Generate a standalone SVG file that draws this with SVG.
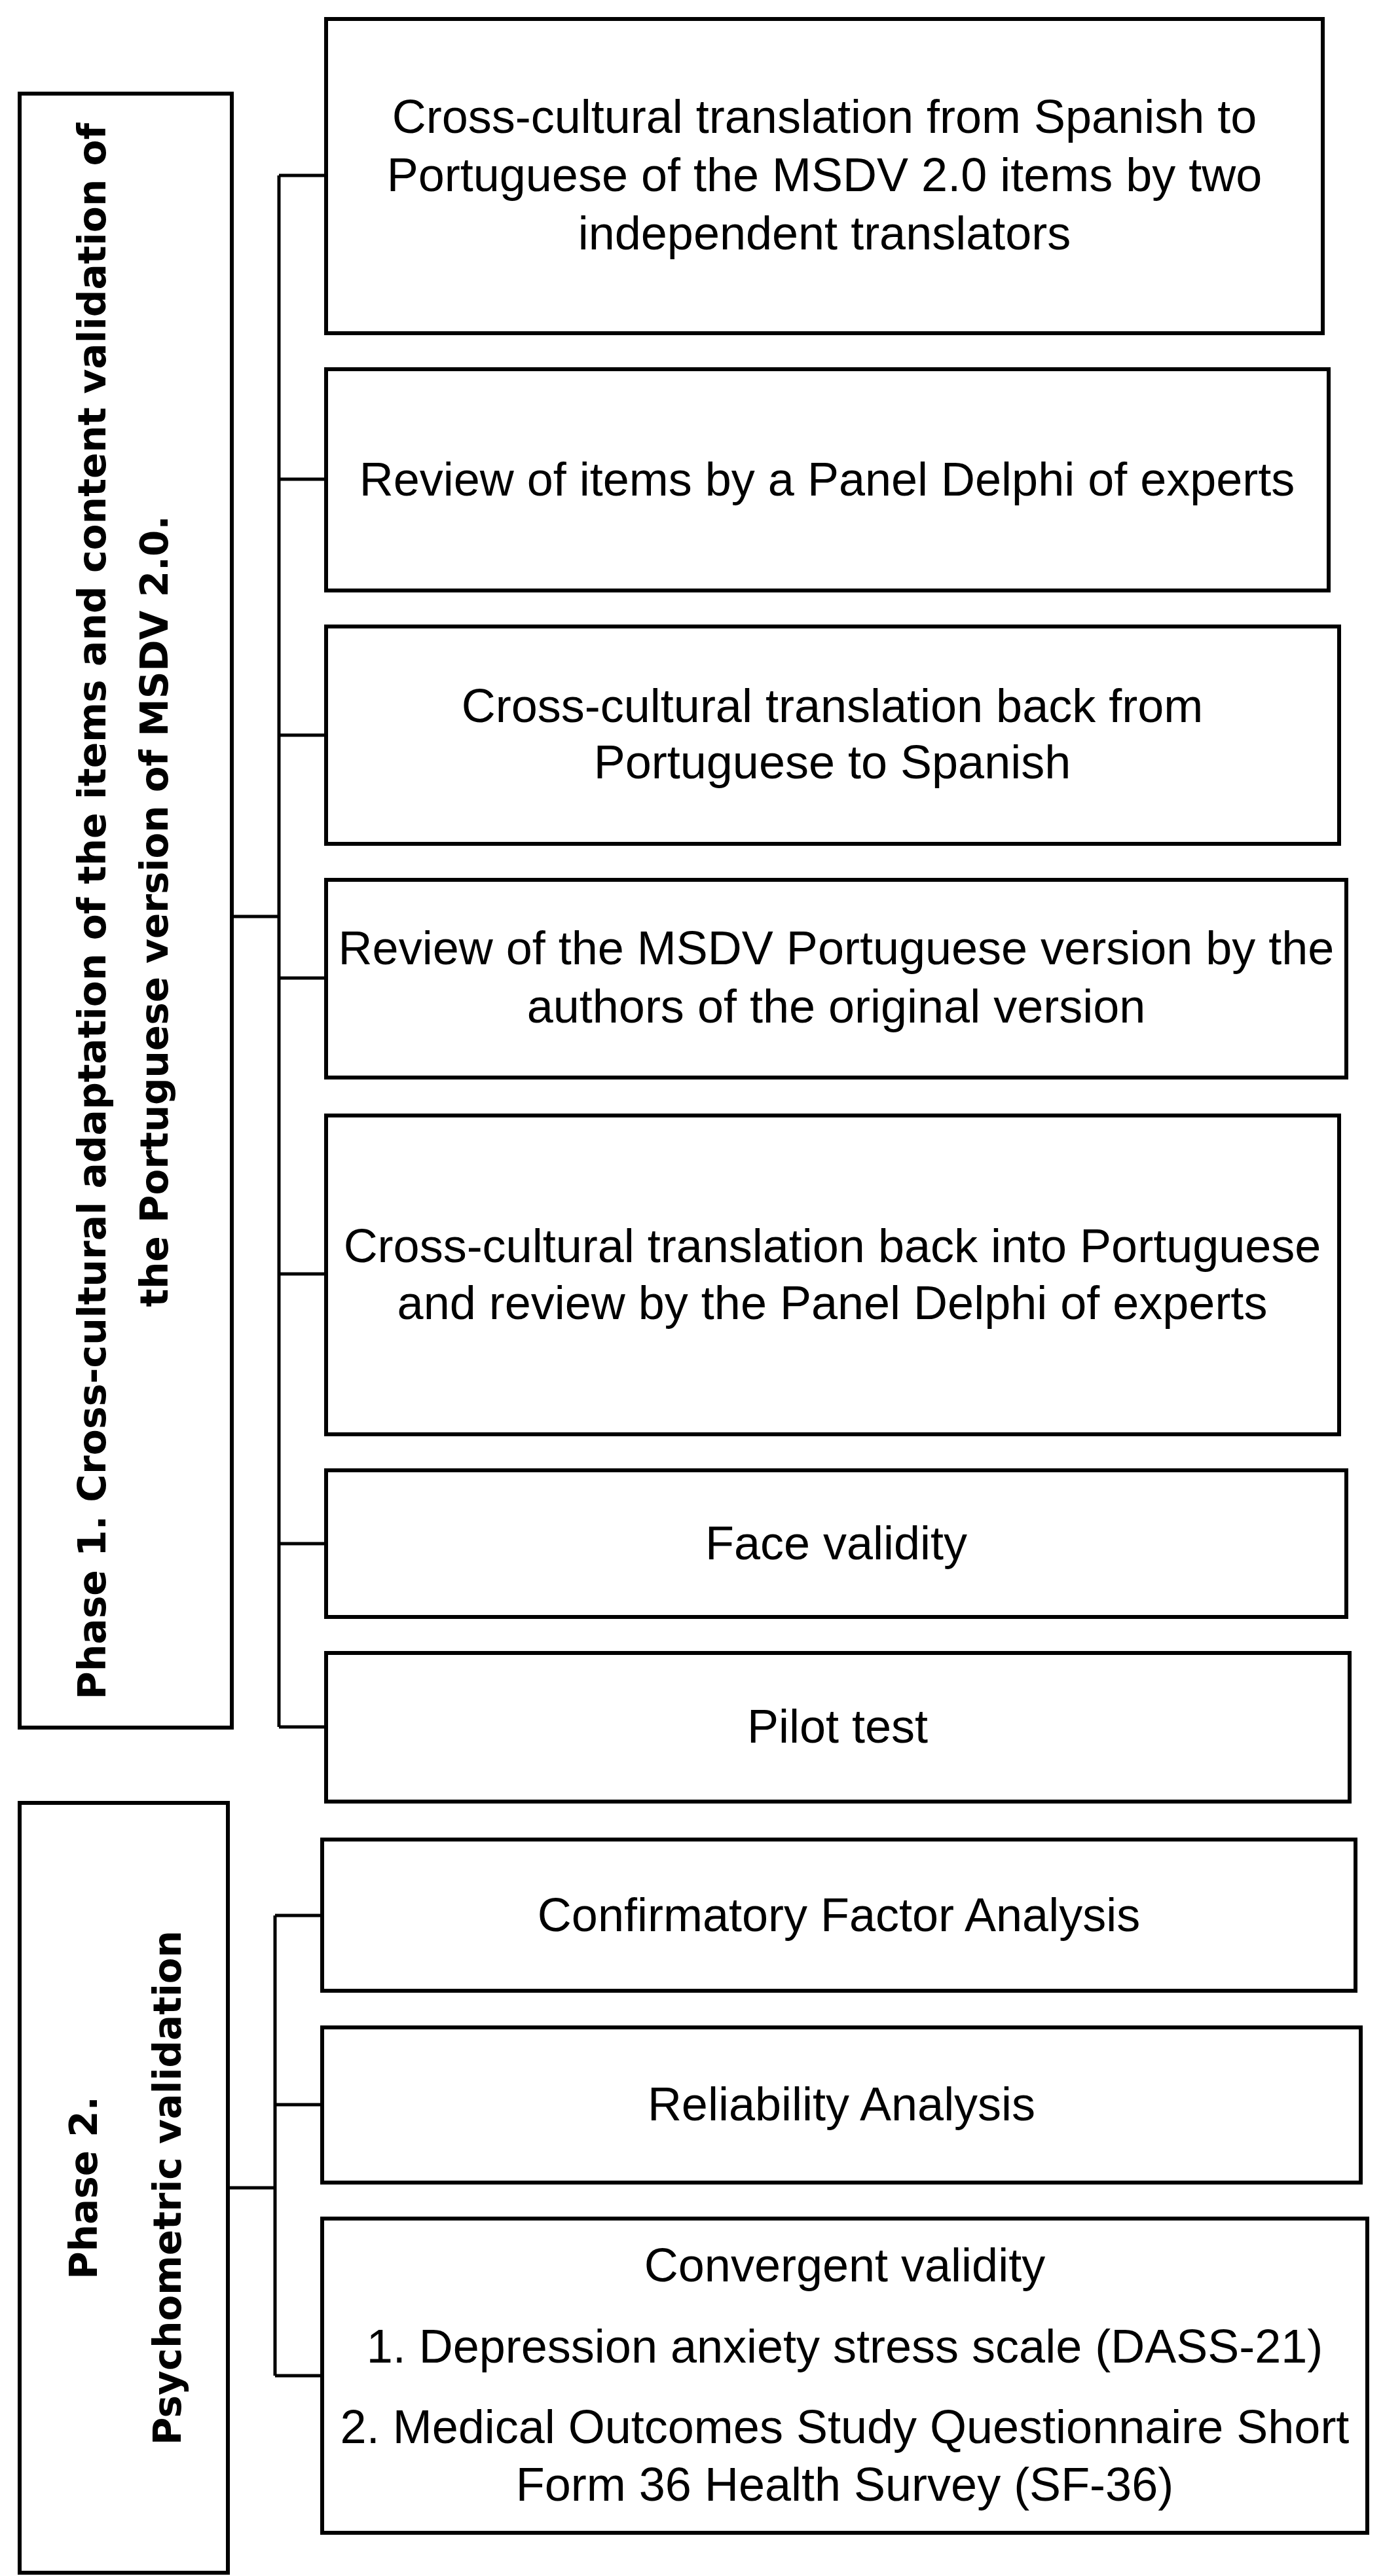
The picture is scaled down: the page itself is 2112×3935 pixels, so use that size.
<svg xmlns="http://www.w3.org/2000/svg" width="2112" height="3935" viewBox="0 0 2112 3935">
<style>
rect{fill:#fff;stroke:#000;stroke-width:6}
.t{font-family:"Liberation Sans",Arial,sans-serif;font-size:72px;text-anchor:middle;fill:#000}
.p{font-family:"DejaVu Sans",sans-serif;font-weight:bold;font-size:58px;text-anchor:middle;fill:#000}
#connectors path{fill:none;stroke:#000;stroke-width:5}
</style>
<rect width="2112" height="3935" style="stroke:none"/>
<g id="connectors">
<path d="M354 1400H426M426 268V2638M426 268H498M426 732H498M426 1123H498M426 1494H498M426 1946H498M426 2358H498M426 2638H498"/>
<path d="M348 3342H420M420 2926V3629M420 2926H492M420 3215H492M420 3629H492"/>
</g>
<g id="phase1"><rect x="30" y="143" width="324" height="2496"/>
<text class="p" transform="translate(161,1392) rotate(-90)" textLength="2408" lengthAdjust="spacingAndGlyphs">Phase 1. Cross-cultural adaptation of the items and content validation of</text>
<text class="p" transform="translate(256,1392) rotate(-90)">the Portuguese version of MSDV 2.0.</text></g>
<g id="n1"><rect x="498" y="29" width="1522" height="480"/><text class="t" x="1259" y="203">Cross-cultural translation from Spanish to</text><text class="t" x="1259" y="292">Portuguese of the MSDV 2.0 items by two</text><text class="t" x="1259" y="381">independent translators</text></g>
<g id="n2"><rect x="498" y="564" width="1531" height="338"/><text class="t" x="1263" y="757">Review of items by a Panel Delphi of experts</text></g>
<g id="n3"><rect x="498" y="957" width="1547" height="332"/><text class="t" x="1271" y="1103">Cross-cultural translation back from</text><text class="t" x="1271" y="1189">Portuguese to Spanish</text></g>
<g id="n4"><rect x="498" y="1344" width="1558" height="302"/><text class="t" x="1277" y="1473">Review of the MSDV Portuguese version by the</text><text class="t" x="1277" y="1562">authors of the original version</text></g>
<g id="n5"><rect x="498" y="1704" width="1547" height="487"/><text class="t" x="1271" y="1928">Cross-cultural translation back into Portuguese</text><text class="t" x="1271" y="2015">and review by the Panel Delphi of experts</text></g>
<g id="n6"><rect x="498" y="2246" width="1558" height="224"/><text class="t" x="1277" y="2382">Face validity</text></g>
<g id="n7"><rect x="498" y="2525" width="1563" height="227"/><text class="t" x="1279" y="2662">Pilot test</text></g>
<g id="phase2"><rect x="30" y="2754" width="318" height="1176"/>
<text class="p" transform="translate(148,3342) rotate(-90)">Phase 2.</text>
<text class="p" transform="translate(276,3342) rotate(-90)">Psychometric validation</text></g>
<g id="n8"><rect x="492" y="2810" width="1578" height="231"/><text class="t" x="1281" y="2950">Confirmatory Factor Analysis</text></g>
<g id="n9"><rect x="492" y="3097" width="1586" height="237"/><text class="t" x="1285" y="3239">Reliability Analysis</text></g>
<g id="n10"><rect x="492" y="3389" width="1596" height="480"/><text class="t" x="1290" y="3485">Convergent validity</text><text class="t" x="1290" y="3609">1. Depression anxiety  stress scale (DASS-21)</text><text class="t" x="1290" y="3732">2. Medical Outcomes Study Questionnaire Short</text><text class="t" x="1290" y="3820">Form 36 Health Survey (SF-36)</text></g>
</svg>
